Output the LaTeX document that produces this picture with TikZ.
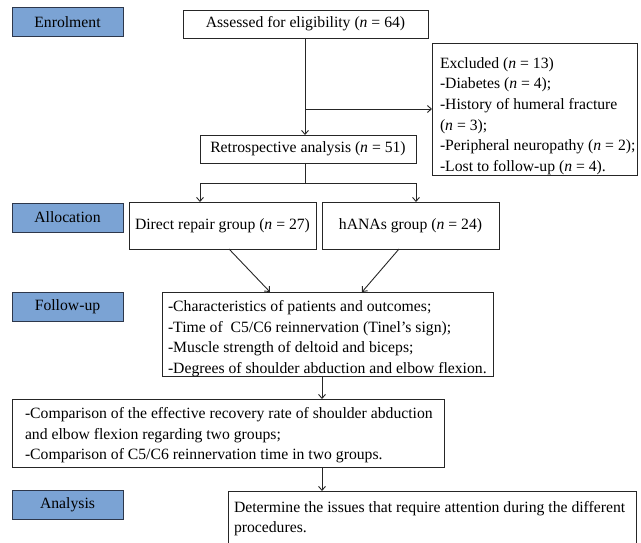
\documentclass[tikz,border=0pt]{standalone}
\usepackage{fontspec}
\setmainfont{Liberation Serif}
\usetikzlibrary{arrows.meta}
\definecolor{labfill}{RGB}{123,163,212}
\definecolor{labdraw}{RGB}{45,55,75}
\tikzset{
  base/.style={draw=black!85, line width=0.9pt, inner sep=0pt, outer sep=0pt,
    font=\fontsize{15.7}{20.6}\selectfont},
  stage/.style={base, draw=labdraw, fill=labfill, minimum width=111pt, minimum height=29pt},
  txt/.style={inner sep=0pt, outer sep=0pt, align=left, anchor=west,
    font=\fontsize{15.7}{20.6}\selectfont},
  arr/.style={line width=0.9pt, draw=black!85, -{Straight Barb[length=4pt,width=7pt]}},
  ln/.style={line width=0.9pt, draw=black!85}
}
\newcommand{\nn}{\textit{n}}
\begin{document}
\begin{tikzpicture}[x=1pt,y=-1pt]
\useasboundingbox (0,0) rectangle (641,543);
% stage labels
\node[stage] (enr) at (67.5,22) {Enrolment};
\node[stage] (alloc) at (67.5,217.5) {Allocation};
\node[stage] (fol) at (67.5,306.5) {Follow-up};
\node[stage] (ana) at (67.5,505) {Analysis};
% boxes
\node[base, minimum width=245pt, minimum height=28pt] (assess) at (305.5,24) {Assessed for eligibility (\nn{} = 64)};
\node[base, minimum width=205pt, minimum height=132pt] (excl) at (534.5,109) {};
\node[txt] (exclt) at ([xshift=8pt,yshift=-7pt]excl.west) {Excluded (\nn{} = 13)\\-Diabetes (\nn{} = 4);\\-History of humeral fracture\\(\nn{} = 3);\\-Peripheral neuropathy (\nn{} = 2);\\-Lost to follow-up (\nn{} = 4).};
\node[base, minimum width=216pt, minimum height=28pt] (retro) at (308,149) {Retrospective analysis (\nn{} = 51)};
\node[base, minimum width=187pt, minimum height=47pt] (direct) at (222.5,225.5) {Direct repair group (\nn{} = 27)};
\node[base, minimum width=177pt, minimum height=47pt] (hanas) at (410.5,225.5) {hANAs group (\nn{} = 24)};
\node[base, minimum width=331pt, minimum height=84pt] (follow) at (327.5,334) {};
\node[txt] (followt) at ([xshift=6pt,yshift=-4.5pt]follow.west) {-Characteristics of patients and outcomes;\\-Time of~ C5/C6 reinnervation (Tinel’s sign);\\-Muscle strength of deltoid and biceps;\\-Degrees of shoulder abduction and elbow flexion.};
\node[base, minimum width=432pt, minimum height=68pt] (comp) at (228,433) {};
\node[txt] (compt) at ([xshift=13pt,yshift=-2.5pt]comp.west) {-Comparison of the effective recovery rate of shoulder abduction\\and elbow flexion regarding two groups;\\-Comparison of C5/C6 reinnervation time in two groups.};
\node[base, minimum width=408pt, minimum height=80pt, anchor=north] (det) at (432,491) {};
\node[txt, anchor=north west] (dett) at ([xshift=6pt,yshift=-10pt]det.north west) {Determine the issues that require attention during the different\\procedures.};
% connectors
\coordinate (a1) at ([xshift=-0.5pt]assess.south);
\draw[arr] (a1) -- (a1 |- retro.north);
\draw[arr] (a1 |- excl.west) -- (excl.west);
\coordinate (r1) at (a1 |- retro.south);
\coordinate (split) at (305,183);
\draw[ln] (r1) -- (split);
\draw[arr] (split) -| (retro.south west |- direct.north);
\draw[arr] (split) -| (retro.south east |- hanas.north);
\draw[arr] ([xshift=6.5pt]direct.south) -- ([xshift=-57.5pt]follow.north);
\draw[arr] ([xshift=-11.5pt]hanas.south) -- ([xshift=34.5pt]follow.north);
\coordinate (f1) at ([xshift=-5.5pt]follow.south);
\draw[arr] (f1) -- (f1 |- comp.north);
\draw[arr] (f1 |- comp.south) -- (f1 |- det.north);
\end{tikzpicture}
\end{document}
